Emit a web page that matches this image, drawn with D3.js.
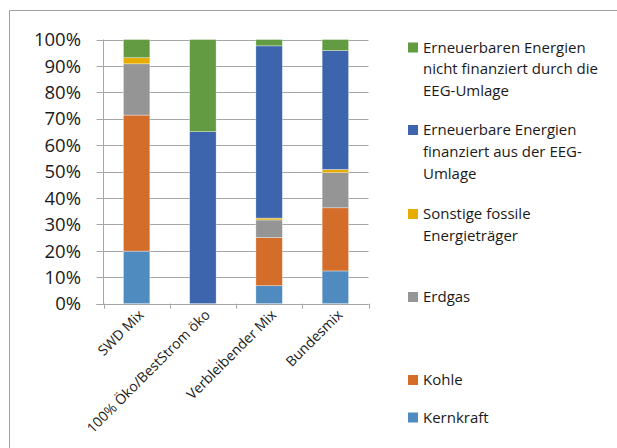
<!DOCTYPE html>
<html><head><meta charset="utf-8">
<script src="https://cdn.jsdelivr.net/npm/d3@7"></script>
<style>body{margin:0;background:#fff;}svg{display:block;font-family:"Open Sans",sans-serif;}</style>
</head><body><svg id="c" width="617" height="448"></svg>
<script>
const categories = ["SWD Mix", "100% Öko/BestStrom öko", "Verbleibender Mix", "Bundesmix"];
const seriesNames = ["Kernkraft", "Kohle", "Erdgas", "Sonstige fossile Energieträger", "Erneuerbare Energien finanziert aus der EEG-Umlage", "Erneuerbaren Energien nicht finanziert durch die EEG-Umlage"];
const kernkraft = [19.9, 0, 6.8, 12.4];
const kohle = [51.5, 0, 18.2, 23.9];
const erdgas = [19.4, 0, 6.7, 13.3];
const sonstige = [2.3, 0, 0.7, 1.2];
const eegFinanziert = [0, 65.1, 65.2, 45.0];
const eegNicht = [6.9, 34.9, 2.4, 4.2];
const yTicks = [0, 10, 20, 30, 40, 50, 60, 70, 80, 90, 100];
const legendLines = [
  ["Erneuerbaren Energien", "nicht finanziert durch die", "EEG-Umlage"],
  ["Erneuerbare Energien", "finanziert aus der EEG-", "Umlage"],
  ["Sonstige fossile", "Energieträger"],
  ["Erdgas"],
  ["Kohle"],
  ["Kernkraft"]
];

const colors = ["#4f8bbe", "#d46d2a", "#959595", "#e6ac00", "#3d65ae", "#629b41"];
const seriesData = [kernkraft, kohle, erdgas, sonstige, eegFinanziert, eegNicht];

const svg = d3.select("#c");
svg.append("path").attr("d", "M9.5,448 L9.5,10.5 L617,10.5").attr("fill", "none").attr("stroke", "#a0a0a0").attr("stroke-width", 1);

const x0 = 103.5, x1 = 368.5, yTop = 39.5, yBot = 303.7;
const x = d3.scaleBand().domain(categories).range([x0, x1]).paddingInner(0.6).paddingOuter(0.3);
const xb = d3.scaleBand().domain(categories).range([x0, x1]);
const y = d3.scaleLinear().domain([0, 100]).range([yBot, yTop]);

svg.append("g").selectAll("line").data(yTicks).join("line")
  .attr("x1", x0 - 7).attr("x2", x1).attr("y1", d => Math.round(y(d)) + 0.5).attr("y2", d => Math.round(y(d)) + 0.5)
  .attr("stroke", "#a6a6a6").attr("stroke-width", 1);
svg.append("g").selectAll("text").data(yTicks).join("text")
  .attr("x", 81).attr("y", d => y(d)).attr("dy", "0.36em").attr("text-anchor", "end")
  .attr("font-size", 18.5).attr("fill", "#1a1a1a").text(d => d + "%");

const rows = categories.map((c, i) => {
  const r = {cat: c};
  seriesNames.forEach((s, j) => r[s] = seriesData[j][i]);
  return r;
});
const stack = d3.stack().keys(seriesNames)(rows);
svg.append("g").selectAll("g").data(stack).join("g").attr("fill", (d, i) => colors[i])
  .selectAll("rect").data(d => d).join("rect")
  .attr("x", d => x(d.data.cat)).attr("width", x.bandwidth())
  .attr("y", d => y(d[1])).attr("height", d => Math.max(0, y(d[0]) - y(d[1])))
  .attr("stroke", d => (d[1] - d[0]) > 0 ? "#fff" : "none").attr("stroke-width", 0.6).attr("stroke-opacity", 0.6);

svg.append("line").attr("x1", x0).attr("x2", x0).attr("y1", yTop).attr("y2", yBot + 0.5).attr("stroke", "#a6a6a6");
svg.append("line").attr("x1", x0 - 7).attr("x2", x1).attr("y1", Math.round(yBot) + 0.5).attr("y2", Math.round(yBot) + 0.5).attr("stroke", "#a6a6a6");
const bounds = [x0].concat(categories.map(c => xb(c) + xb.bandwidth()));
svg.append("g").selectAll("line").data(bounds).join("line")
  .attr("x1", d => Math.round(d) + 0.5).attr("x2", d => Math.round(d) + 0.5)
  .attr("y1", yBot).attr("y2", yBot + 5).attr("stroke", "#a6a6a6");

svg.append("g").selectAll("text").data(categories).join("text")
  .attr("transform", d => `translate(${xb(d) + xb.bandwidth() / 2 + 8},${yBot + 12}) rotate(-45)`)
  .attr("text-anchor", "end").attr("font-size", 14).attr("fill", "#1a1a1a").text(d => d);

const legendY = [47.5, 130, 214, 297, 380, 417.5];
const order = [5, 4, 3, 2, 1, 0];
const lg = svg.append("g");
order.forEach((si, k) => {
  const g = lg.append("g").attr("transform", `translate(408,${legendY[k]})`);
  g.append("rect").attr("x", 0).attr("y", -5).attr("width", 10).attr("height", 10).attr("fill", colors[si]);
  legendLines[k].forEach((t, li) => {
    g.append("text").attr("x", 15).attr("y", li * 21.7).attr("dy", "0.35em")
      .attr("font-size", 15).attr("fill", "#1a1a1a").text(t);
  });
});
</script></body></html>
